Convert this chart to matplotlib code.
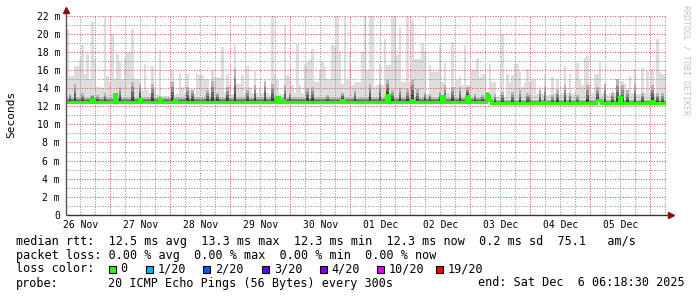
import datetime as dt
import numpy as np
import matplotlib
matplotlib.use("Agg")
import matplotlib.pyplot as plt
import matplotlib.dates as mdates
from matplotlib.patches import Rectangle
from matplotlib.ticker import MultipleLocator, NullFormatter

# ---------------- data (one value per hour, 240 hours) ----------------
end_time = dt.datetime(2025, 12, 6, 6, 18, 30)
n_hours = 240

rtt_max = [
    20.4, 15.3, 15.3, 16.4, 16.4, 17.1, 18.7, 15.5, 17.7, 15.0, 21.3, 17.2, 14.1, 14.1, 14.0, 22.0, 15.3, 14.7, 20.0, 15.0,
    17.7, 16.9, 15.0, 17.2, 18.0, 18.0, 20.5, 15.0, 15.0, 14.8, 13.8, 16.7, 13.8, 13.5, 16.4, 13.9, 13.3, 18.2, 13.1, 13.1,
    13.1, 13.1, 16.0, 13.2, 13.3, 15.7, 14.1, 13.4, 15.6, 13.8, 13.9, 13.3, 15.5, 15.4, 15.4, 15.0, 15.0, 13.5, 16.0, 15.2,
    15.2, 15.1, 18.5, 13.5, 15.6, 14.3, 13.3, 18.8, 14.5, 14.5, 15.4, 13.4, 16.4, 14.1, 13.4, 15.9, 13.5, 13.9, 13.4, 14.9,
    13.4, 13.2, 22.0, 15.4, 14.9, 13.3, 13.3, 20.8, 15.4, 15.2, 14.3, 13.4, 18.9, 14.3, 13.4, 16.5, 16.9, 17.2, 18.3, 14.7,
    14.7, 16.0, 16.9, 16.3, 15.0, 15.0, 18.8, 18.5, 22.0, 18.0, 14.5, 22.0, 14.9, 18.0, 14.3, 14.7, 14.7, 14.7, 18.0, 22.0,
    16.0, 22.0, 22.0, 14.1, 14.3, 16.7, 14.3, 19.4, 16.5, 16.5, 22.0, 22.0, 17.6, 20.7, 14.7, 14.7, 22.0, 14.7, 21.5, 17.2,
    17.2, 17.2, 18.9, 18.0, 13.3, 16.5, 15.8, 15.8, 15.8, 18.7, 14.7, 16.8, 13.6, 13.4, 19.1, 14.1, 14.9, 15.2, 14.3, 18.7,
    14.3, 14.3, 16.0, 16.0, 17.2, 15.2, 15.6, 15.6, 13.4, 16.6, 14.7, 14.7, 13.0, 13.2, 20.0, 13.0, 15.6, 14.7, 15.4, 16.6,
    16.6, 15.8, 14.1, 14.7, 16.1, 14.7, 14.9, 15.0, 13.3, 14.1, 13.3, 15.6, 13.2, 13.3, 15.2, 13.4, 15.0, 13.2, 13.4, 16.4,
    13.4, 15.6, 13.3, 13.4, 16.8, 14.9, 14.3, 17.3, 17.5, 14.5, 13.5, 15.5, 15.5, 16.9, 13.5, 14.3, 13.2, 13.4, 13.7, 13.4,
    15.0, 13.4, 14.8, 14.5, 13.8, 15.3, 13.4, 16.1, 13.3, 13.3, 16.2, 13.4, 15.9, 13.5, 16.1, 13.3, 19.4, 15.8, 15.6, 15.6,
]

rtt_upper = [
    12.9, 13.3, 12.9, 14.5, 12.9, 12.9, 13.4, 12.9, 12.9, 12.9, 13.2, 12.9, 13.2, 12.9, 12.9, 13.4, 12.9, 12.9, 12.9, 13.4,
    12.9, 14.1, 12.9, 12.9, 12.9, 12.9, 14.7, 12.9, 12.9, 14.5, 12.9, 12.9, 12.9, 12.9, 14.5, 12.9, 12.9, 13.1, 12.9, 12.9,
    12.9, 12.9, 14.7, 12.9, 12.9, 12.9, 12.9, 12.9, 14.1, 12.9, 13.8, 12.9, 12.9, 12.9, 12.9, 12.9, 13.8, 12.9, 14.8, 12.9,
    13.5, 12.9, 12.9, 12.9, 14.1, 12.9, 12.9, 16.1, 12.9, 12.9, 12.9, 12.9, 13.8, 12.9, 12.9, 14.3, 12.9, 12.9, 12.9, 14.7,
    12.9, 12.9, 14.5, 12.9, 13.0, 12.9, 12.9, 14.3, 12.9, 13.5, 12.9, 12.9, 12.9, 12.9, 12.9, 12.9, 14.0, 12.9, 14.1, 12.9,
    12.9, 12.9, 12.9, 12.9, 13.2, 12.9, 12.9, 12.9, 12.9, 12.9, 13.5, 12.9, 12.9, 12.9, 12.9, 13.8, 12.9, 12.9, 12.9, 12.9,
    12.9, 14.5, 12.9, 12.9, 12.9, 14.5, 12.9, 12.9, 14.9, 12.9, 13.8, 12.9, 12.9, 14.0, 12.9, 12.9, 13.9, 12.9, 14.9, 12.9,
    13.9, 12.9, 12.9, 13.5, 12.9, 13.3, 12.9, 12.9, 12.9, 13.6, 12.9, 14.3, 12.9, 12.9, 14.1, 12.9, 12.9, 14.1, 12.9, 12.9,
    14.1, 12.9, 12.9, 13.3, 12.9, 12.9, 13.2, 12.9, 13.6, 12.9, 12.7, 13.3, 12.7, 12.7, 13.6, 12.7, 12.7, 12.7, 13.6, 12.7,
    12.7, 13.8, 12.7, 12.7, 13.5, 13.2, 12.7, 12.7, 12.7, 13.8, 12.7, 14.1, 12.7, 12.7, 13.2, 12.7, 13.8, 12.7, 12.7, 14.3,
    12.7, 13.4, 12.7, 12.7, 13.2, 12.7, 12.7, 12.7, 14.3, 12.7, 12.7, 12.7, 14.1, 12.7, 12.7, 14.4, 12.7, 12.7, 13.4, 12.7,
    15.0, 12.7, 14.3, 12.7, 13.8, 12.7, 12.7, 14.4, 12.7, 12.7, 13.5, 12.7, 12.7, 12.7, 14.3, 12.7, 13.5, 12.7, 13.4, 12.7,
]

rtt_median = [
    12.5, 12.5, 12.5, 12.5, 12.5, 12.5, 12.5, 12.5, 12.5, 12.5, 12.8, 12.5, 12.5, 12.5, 12.5, 12.5, 12.5, 12.5, 12.5, 13.3,
    12.5, 12.5, 12.5, 12.5, 12.5, 12.5, 12.5, 12.5, 12.5, 12.8, 12.5, 12.5, 12.5, 12.5, 12.5, 12.5, 12.5, 12.8, 12.5, 12.5,
    12.5, 12.5, 12.5, 12.7, 12.5, 12.5, 12.5, 12.5, 12.5, 12.5, 12.5, 12.5, 12.5, 12.5, 12.5, 12.5, 12.5, 12.5, 12.5, 12.5,
    12.5, 12.5, 12.5, 12.5, 12.5, 12.5, 12.5, 12.5, 12.5, 12.5, 12.5, 12.5, 12.5, 12.5, 12.5, 12.5, 12.5, 12.5, 12.5, 12.5,
    12.5, 12.5, 12.5, 12.5, 13.0, 12.5, 12.7, 12.5, 12.5, 12.5, 12.5, 12.5, 12.5, 12.5, 12.5, 12.5, 12.5, 12.5, 12.5, 12.5,
    12.5, 12.5, 12.5, 12.5, 12.5, 12.5, 12.5, 12.5, 12.5, 12.5, 12.7, 12.5, 12.5, 12.5, 12.5, 12.5, 12.5, 12.5, 12.5, 12.5,
    12.5, 12.5, 12.5, 12.5, 12.5, 12.5, 12.5, 12.5, 13.2, 12.5, 12.5, 12.5, 12.5, 12.5, 12.5, 12.5, 12.5, 12.5, 12.7, 12.5,
    12.5, 12.5, 12.5, 12.5, 12.5, 12.5, 12.5, 12.5, 12.5, 12.5, 13.1, 12.5, 12.5, 12.5, 12.5, 12.5, 12.5, 12.5, 12.5, 12.5,
    13.1, 12.5, 12.5, 12.5, 12.5, 12.5, 12.5, 12.5, 13.2, 12.7, 12.3, 12.3, 12.3, 12.3, 12.3, 12.3, 12.3, 12.3, 12.3, 12.3,
    12.3, 12.3, 12.3, 12.3, 12.3, 12.3, 12.3, 12.3, 12.3, 12.3, 12.5, 12.3, 12.3, 12.3, 12.3, 12.3, 12.3, 12.3, 12.3, 12.3,
    12.3, 12.3, 12.3, 12.3, 12.3, 12.3, 12.3, 12.3, 12.3, 12.3, 12.3, 12.3, 12.7, 12.7, 12.3, 12.3, 12.3, 12.3, 12.3, 12.3,
    12.3, 13.0, 12.3, 12.3, 12.3, 12.3, 12.3, 12.3, 12.3, 12.3, 12.3, 12.3, 12.3, 12.3, 12.6, 12.3, 12.3, 12.3, 12.3, 12.3,
]

y_ticks = [0, 2, 4, 6, 8, 10, 12, 14, 16, 18, 20, 22]
y_tick_labels = ["0", "2 m", "4 m", "6 m", "8 m", "10 m", "12 m", "14 m",
                 "16 m", "18 m", "20 m", "22 m"]

legend_lines = [
    "median rtt:  12.5 ms avg  13.3 ms max  12.3 ms min  12.3 ms now  0.2 ms sd  75.1   am/s",
    "packet loss: 0.00 % avg  0.00 % max  0.00 % min  0.00 % now",
]
loss_labels = ["0", "1/20", "2/20", "3/20", "4/20", "10/20", "19/20"]
loss_colors = ["#26ff00", "#00b8ff", "#0059ff", "#5e00ff", "#7e00ff", "#dd00ff", "#ff0000"]
probe_text = "20 ICMP Echo Pings (56 Bytes) every 300s"
end_text = "end: Sat Dec  6 06:18:30 2025"

# ---------------- figure ----------------
W, H = 697, 297
fig = plt.figure(figsize=(W / 100, H / 100), dpi=100, facecolor="white")
ax = fig.add_axes([66 / W, (H - 215) / H, 600 / W, 199.5 / H])
ax.set_facecolor("white")

start_time = end_time - dt.timedelta(hours=n_hours)
t0 = mdates.date2num(start_time)
edges = t0 + np.arange(n_hours + 1) / 24.0

med = np.array(rtt_median)
upp = np.array(rtt_upper)
mx = np.array(rtt_max)

# smoke: outer light layer then darker inner layers
ax.stairs(mx, edges, baseline=med, fill=True, color="#dddddd", lw=0, zorder=1)
for frac, col in [(1.0, "#b4b4b4"), (0.72, "#8c8c8c"), (0.48, "#646464"), (0.24, "#3c3c3c")]:
    ax.stairs(med + frac * (upp - med), edges, baseline=med, fill=True,
              color=col, lw=0, zorder=1.1)

# median line
ax.stairs(med, edges, baseline=None, color="#26ff00", lw=2.2, zorder=3)

ax.set_xlim(edges[0], edges[-1])
ax.set_ylim(0, 22)

# y ticks / grid
ax.set_yticks(y_ticks)
ax.set_yticklabels(y_tick_labels)
ax.yaxis.set_minor_locator(MultipleLocator(1))

# x ticks / grid
ax.xaxis.set_major_locator(mdates.DayLocator())
ax.xaxis.set_major_formatter(NullFormatter())
ax.xaxis.set_minor_locator(mdates.HourLocator(byhour=[6, 12, 18]))

dot = (0, (1, 1.6))
ax.grid(which="major", color=(0.87, 0.31, 0.31, 0.38), linestyle=dot, lw=0.72)
ax.grid(which="minor", color=(0.56, 0.56, 0.56, 0.32), linestyle=dot, lw=0.72)
ax.set_axisbelow(False)

ax.tick_params(axis="both", which="both", length=0)
ax.tick_params(axis="y", pad=4.3, labelsize=7)
for lab in ax.get_yticklabels():
    lab.set_family("DejaVu Sans Mono")

sec = ax.secondary_xaxis("bottom")
sec.xaxis.set_major_locator(mdates.HourLocator(byhour=12))
sec.xaxis.set_major_formatter(mdates.DateFormatter("%d %b"))
sec.tick_params(length=0, pad=3.6, labelsize=7)
for lab in sec.get_xticklabels():
    lab.set_family("DejaVu Sans Mono")
sec.spines["bottom"].set_visible(False)

for s in ax.spines.values():
    s.set_visible(False)

# axis lines with arrow heads
ax.plot([0, 1.005], [0, 0], transform=ax.transAxes, color="#333333", lw=1.0,
        clip_on=False, zorder=5, solid_capstyle="butt")
ax.plot([0, 0], [0, 1.012], transform=ax.transAxes, color="#555555", lw=1.0,
        clip_on=False, zorder=5, solid_capstyle="butt")
ax.plot([1.009], [0], transform=ax.transAxes, marker=">", color="#8b1010",
        markersize=4, clip_on=False, zorder=6)
ax.plot([0], [1.03], transform=ax.transAxes, marker="^", color="#8b1010",
        markersize=4, clip_on=False, zorder=6)

mono = "DejaVu Sans Mono"
fig.text(11 / W, 1 - 114 / H, "Seconds", rotation=90, ha="center", va="center",
         family=mono, size=8)
fig.text(686 / W, 1 - 60 / H, "RRDTOOL / TOBI OETIKER", rotation=270,
         ha="center", va="center", family=mono, size=6, color="#c4c4c4")

fig.text(16 / W, 1 - 241 / H, legend_lines[0], ha="left", va="center", family=mono, size=8.5)
fig.text(16 / W, 1 - 255 / H, legend_lines[1], ha="left", va="center", family=mono, size=8.5)
fig.text(16 / W, 1 - 269 / H, "loss color:", ha="left", va="center", family=mono, size=8.5)
box_x = [109, 146, 203.3, 262.3, 320, 377.3, 436]
for bx, lab, col in zip(box_x, loss_labels, loss_colors):
    fig.add_artist(Rectangle((bx / W, 1 - 272.5 / H), 7 / W, 7 / H,
                             transform=fig.transFigure, facecolor=col,
                             edgecolor="black", lw=0.8))
    fig.text((bx + 11.5) / W, 1 - 269 / H, lab, ha="left", va="center",
             family=mono, size=8.5)
fig.text(16 / W, 1 - 283 / H, "probe:", ha="left", va="center", family=mono, size=8.5)
fig.text(107.5 / W, 1 - 283 / H, probe_text, ha="left", va="center", family=mono, size=8.5)
fig.text(478 / W, 1 - 283 / H, end_text, ha="left", va="center", family=mono, size=8.5)

fig.savefig("out.png", dpi=100, facecolor="white")
